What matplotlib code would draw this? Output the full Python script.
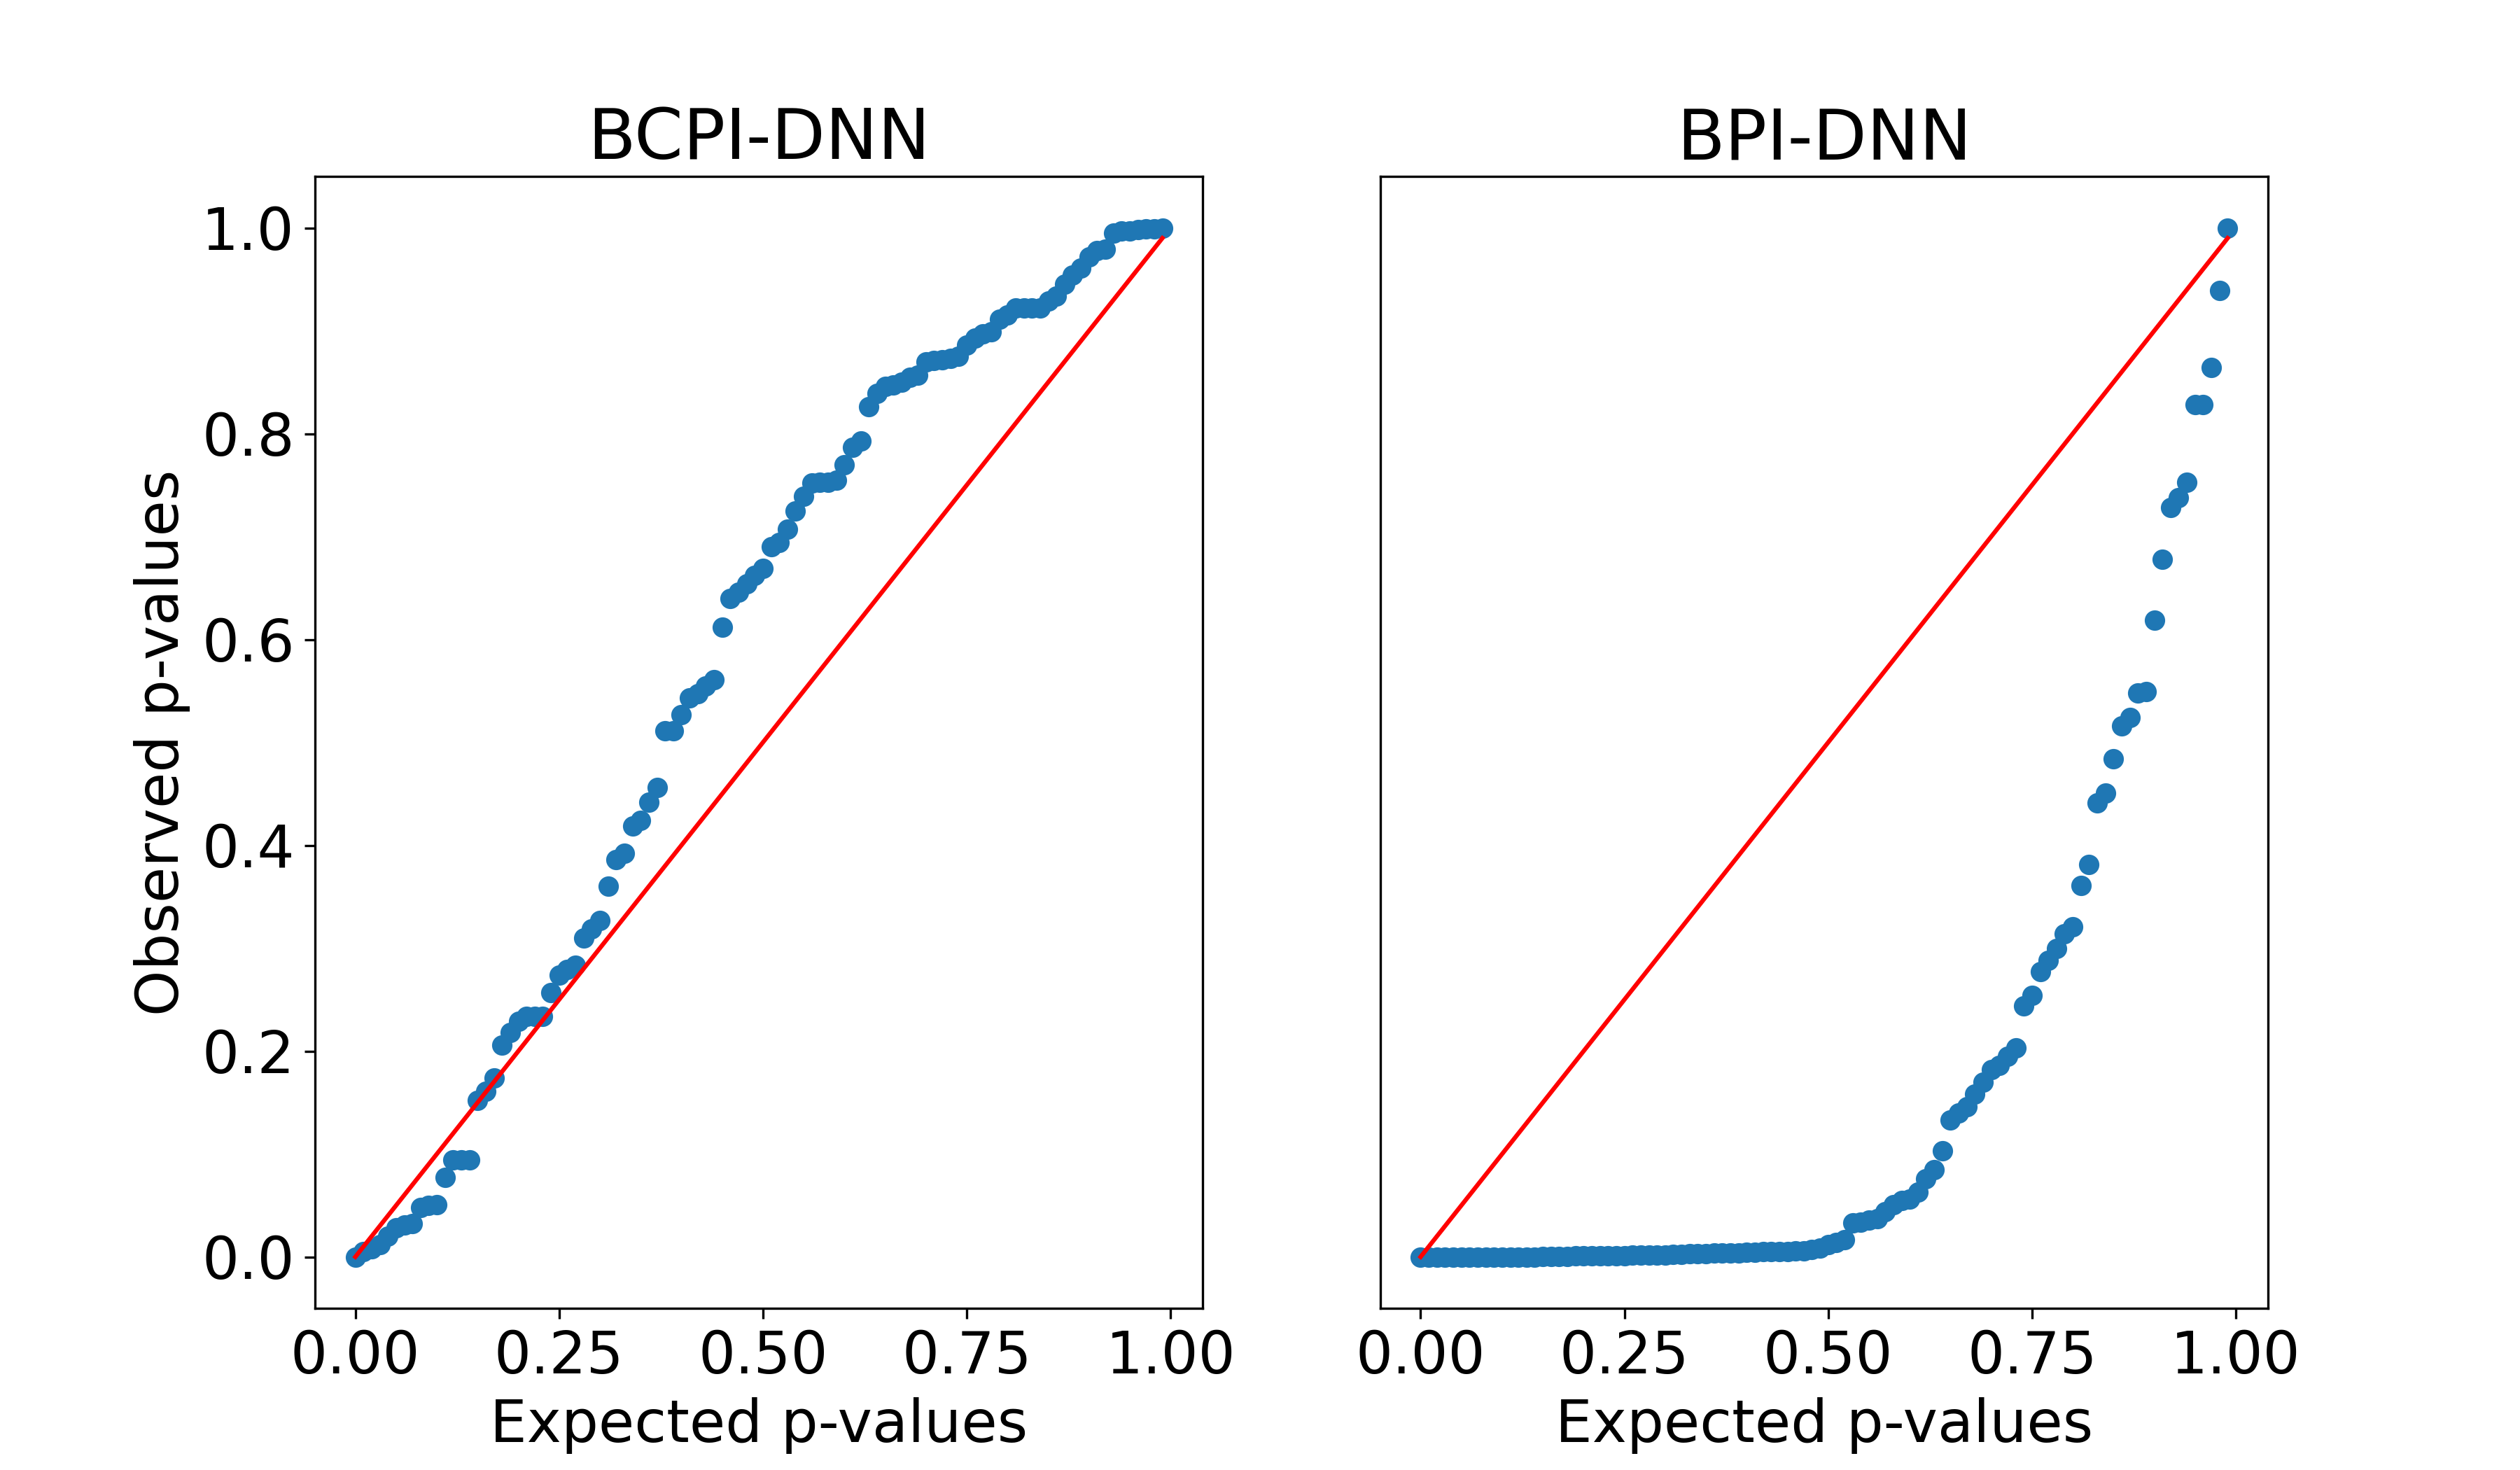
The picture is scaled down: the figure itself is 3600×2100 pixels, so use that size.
import numpy as np
import matplotlib
matplotlib.use("Agg")
import matplotlib.pyplot as plt

plt.rcParams['font.size'] = 20

expected = [i / 100 for i in range(100)]

bcpi_observed = [
    0.0, 0.005, 0.008, 0.012, 0.02, 0.028, 0.031, 0.032, 0.048, 0.05,
    0.051, 0.077, 0.094, 0.094, 0.094, 0.152, 0.161, 0.174, 0.206, 0.218,
    0.229, 0.234, 0.234, 0.234, 0.257, 0.274, 0.279, 0.283, 0.31, 0.319,
    0.327, 0.36, 0.386, 0.392, 0.419, 0.424, 0.442, 0.456, 0.511, 0.511,
    0.527, 0.543, 0.547, 0.555, 0.561, 0.612, 0.64, 0.646, 0.654, 0.662,
    0.669, 0.69, 0.694, 0.707, 0.725, 0.739, 0.752, 0.753, 0.753, 0.755,
    0.77, 0.787, 0.793, 0.826, 0.839, 0.846, 0.847, 0.85, 0.855, 0.857,
    0.87, 0.871, 0.872, 0.873, 0.875, 0.886, 0.893, 0.897, 0.899, 0.911,
    0.915, 0.922, 0.922, 0.922, 0.922, 0.929, 0.934, 0.945, 0.954, 0.961,
    0.972, 0.978, 0.979, 0.995, 0.997, 0.997, 0.998, 0.999, 0.999, 1.0,
]

bpi_observed = [
    0.0, 0.0, 0.0, 0.0, 0.0, 0.0, 0.0, 0.0, 0.0, 0.0,
    0.0, 0.0, 0.0, 0.0, 0.0, 0.0005, 0.0005, 0.0005, 0.0005, 0.0007,
    0.001, 0.001, 0.001, 0.001, 0.001, 0.0012, 0.0015, 0.0015, 0.0018, 0.002,
    0.002, 0.0022, 0.0025, 0.003, 0.003, 0.0032, 0.0035, 0.0038, 0.004, 0.004,
    0.0042, 0.0045, 0.0048, 0.005, 0.005, 0.0052, 0.0055, 0.006, 0.007, 0.0085,
    0.012, 0.014, 0.017, 0.033, 0.034, 0.0355, 0.037, 0.044, 0.051, 0.055,
    0.056, 0.063, 0.076, 0.085, 0.103, 0.133, 0.140, 0.146, 0.158, 0.170,
    0.182, 0.186, 0.195, 0.203, 0.244, 0.254, 0.277, 0.288, 0.300, 0.314,
    0.3205, 0.361, 0.381, 0.441, 0.451, 0.484, 0.516, 0.524, 0.548, 0.549,
    0.619, 0.678, 0.728, 0.738, 0.753, 0.828, 0.828, 0.864, 0.939, 1.0,
]

titles = ["BCPI-DNN", "BPI-DNN"]

fig, axes = plt.subplots(1, 2, figsize=(12, 7), dpi=300)
for ax, obs, title in zip(axes, [bcpi_observed, bpi_observed], titles):
    ax.scatter(expected, obs, color="#1f77b4")
    ax.plot(expected, expected, color="red")
    ax.set_title(title)
    ax.set_xlabel("Expected p-values")
    ax.set_xticks([0.0, 0.25, 0.5, 0.75, 1.0])

axes[0].set_ylabel("Observed p-values")
axes[0].set_yticks([0.0, 0.2, 0.4, 0.6, 0.8, 1.0])
axes[1].set_yticks([])

fig.savefig("out.png", dpi=300)
